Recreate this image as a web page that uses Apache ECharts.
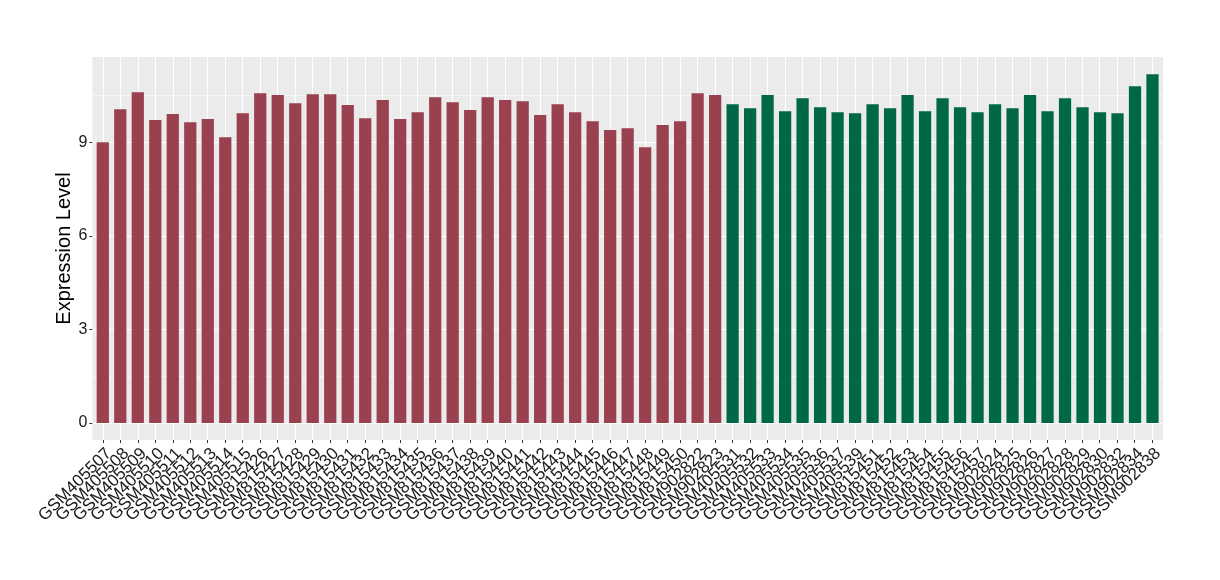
<!DOCTYPE html>
<html>
<head>
<meta charset="utf-8">
<script src="https://cdn.jsdelivr.net/npm/echarts@6/dist/echarts.min.js"></script>
<style>html,body{margin:0;padding:0;background:#fff;}#chart{width:1220px;height:580px;}</style>
</head>
<body>
<div id="chart"></div>
<script>
const redSamples = ['GSM405507','GSM405508','GSM405509','GSM405510','GSM405511','GSM405512','GSM405513','GSM405514','GSM405515','GSM815426','GSM815427','GSM815428','GSM815429','GSM815430','GSM815431','GSM815432','GSM815433','GSM815434','GSM815435','GSM815436','GSM815437','GSM815438','GSM815439','GSM815440','GSM815441','GSM815442','GSM815443','GSM815444','GSM815445','GSM815446','GSM815447','GSM815448','GSM815449','GSM815450','GSM902822','GSM902823'];
const redValues = [9.00,10.06,10.60,9.71,9.90,9.64,9.74,9.16,9.93,10.57,10.51,10.25,10.54,10.54,10.19,9.77,10.35,9.74,9.96,10.44,10.28,10.03,10.44,10.35,10.31,9.87,10.22,9.96,9.67,9.39,9.45,8.84,9.55,9.67,10.57,10.51];
const greenSamples = ['GSM405531','GSM405532','GSM405533','GSM405534','GSM405535','GSM405536','GSM405537','GSM405539','GSM815451','GSM815452','GSM815453','GSM815454','GSM815455','GSM815456','GSM815457','GSM902824','GSM902825','GSM902826','GSM902827','GSM902828','GSM902829','GSM902830','GSM902832','GSM902834','GSM902838'];
const greenValues = [10.22,10.09,10.51,9.99,10.41,10.12,9.96,9.93,10.22,10.09,10.51,9.99,10.41,10.12,9.96,10.22,10.09,10.51,9.99,10.41,10.12,9.96,9.93,10.79,11.18];
const yTickValues = [0, 3, 6, 9];
const yTitle = 'Expression Level';

const categories = redSamples.concat(greenSamples);
const RED = '#9A4150', GREEN = '#006847';
const barData = [];
redValues.forEach((v, i) => barData.push({ value: [i, v], itemStyle: { color: RED } }));
greenValues.forEach((v, i) => barData.push({ value: [redSamples.length + i, v], itemStyle: { color: GREEN } }));

const FONT = 'Liberation Sans, Arial, sans-serif';
const chart = echarts.init(document.getElementById('chart'), null, { renderer: 'canvas' });
const n = categories.length;
chart.setOption({
  animation: false,
  backgroundColor: '#ffffff',
  grid: [
    { left: 92.3, right: 57, top: 57, bottom: 140, show: true, backgroundColor: '#EBEBEB', borderWidth: 0 },
    { left: 92.3, right: 57, top: 48.6, bottom: 157, show: false },
    { left: 102.8, right: 67.8, top: 57, bottom: 140, show: false }
  ],
  xAxis: [
    { gridIndex: 0, type: 'value', show: false, min: 0, max: 1 },
    { gridIndex: 1, type: 'value', show: false, min: -0.6, max: n - 1 + 0.6 },
    {
      gridIndex: 2, type: 'category', data: categories, boundaryGap: false,
      axisLine: { show: false, onZero: false },
      axisTick: { show: true, length: 3, interval: 0, lineStyle: { color: '#333333', width: 1 } },
      axisLabel: { interval: 0, rotate: 45, fontSize: 17, color: '#1a1a1a', fontFamily: FONT, margin: 5,
                   align: 'right', verticalAlign: 'top' },
      splitLine: { show: true, interval: 0, lineStyle: { color: '#ffffff', width: 1.1 } }
    }
  ],
  yAxis: [
    {
      gridIndex: 0, type: 'value', min: 0, max: 1,
      name: yTitle, nameLocation: 'middle', nameGap: 18, nameRotate: 90,
      nameTextStyle: { fontSize: 20, color: '#000000', fontFamily: FONT },
      axisLine: { show: false, onZero: false }, axisTick: { show: false }, axisLabel: { show: false }, splitLine: { show: false }
    },
    {
      gridIndex: 1, type: 'value', min: 0, max: 12, interval: 3,
      axisLine: { show: false, onZero: false },
      axisTick: { show: true, length: 3, customValues: yTickValues, lineStyle: { color: '#333333', width: 1 } },
      axisLabel: { customValues: yTickValues, fontSize: 16, color: '#1a1a1a', fontFamily: FONT, margin: 5,
                   formatter: v => (yTickValues.indexOf(v) >= 0 ? String(v) : '') },
      splitLine: { show: true, lineStyle: { color: '#ffffff', width: 1.1 } },
      minorTick: { show: false, splitNumber: 2 },
      minorSplitLine: { show: true, lineStyle: { color: '#ffffff', width: 0.55 } }
    },
    { gridIndex: 2, type: 'value', show: false, min: 0, max: 1 }
  ],
  series: [{
    type: 'bar',
    xAxisIndex: 1, yAxisIndex: 1,
    barWidth: 12.25,
    data: barData,
    z: 3
  }]
});
</script>
</body>
</html>
